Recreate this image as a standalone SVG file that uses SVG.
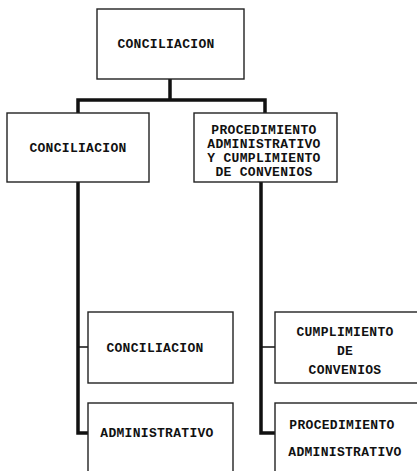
<svg xmlns="http://www.w3.org/2000/svg" width="417" height="471" viewBox="0 0 417 471">
<style>
.box{fill:#fff;stroke:#222;stroke-width:1.4}
.lbl{font-family:"Liberation Mono","DejaVu Sans Mono",monospace;font-weight:bold;font-size:13px;letter-spacing:0.3px;fill:#111;text-anchor:middle}
.con{fill:none;stroke:#111;stroke-width:3.5;stroke-linejoin:miter}
.thin{fill:none;stroke:#111;stroke-width:1.6}
</style>
<rect width="417" height="471" fill="#fff"/>
<g id="connectors">
<path class="con" d="M170 79 V100 M78 113 V100 H265 V113"/>
<path class="con" d="M78 182 V433 H88 M261 182 V433 H275"/>
<path class="thin" d="M78 347 H88 M261 347 H275"/>
</g>
<g id="n-top">
<rect class="box" x="97" y="9" width="147" height="70"/>
<text class="lbl" x="166" y="48">CONCILIACION</text>
</g>
<g id="n-left">
<rect class="box" x="7" y="113" width="142" height="69"/>
<text class="lbl" x="78" y="152">CONCILIACION</text>
</g>
<g id="n-right">
<rect class="box" x="194" y="113" width="143" height="69"/>
<text class="lbl" x="264" y="134">PROCEDIMIENTO</text>
<text class="lbl" x="264" y="148">ADMINISTRATIVO</text>
<text class="lbl" x="264" y="162">Y CUMPLIMIENTO</text>
<text class="lbl" x="264" y="176">DE CONVENIOS</text>
</g>
<g id="n-conc2">
<rect class="box" x="88" y="312" width="145" height="71"/>
<text class="lbl" x="155" y="352">CONCILIACION</text>
</g>
<g id="n-adm">
<rect class="box" x="88" y="403" width="145" height="80"/>
<text class="lbl" x="157" y="437">ADMINISTRATIVO</text>
</g>
<g id="n-cump">
<rect class="box" x="275" y="312" width="150" height="71"/>
<text class="lbl" x="345" y="336">CUMPLIMIENTO</text>
<text class="lbl" x="345" y="355">DE</text>
<text class="lbl" x="345" y="374">CONVENIOS</text>
</g>
<g id="n-proc">
<rect class="box" x="275" y="403" width="150" height="80"/>
<text class="lbl" x="342" y="429">PROCEDIMIENTO</text>
<text class="lbl" x="345" y="456">ADMINISTRATIVO</text>
</g>
</svg>
